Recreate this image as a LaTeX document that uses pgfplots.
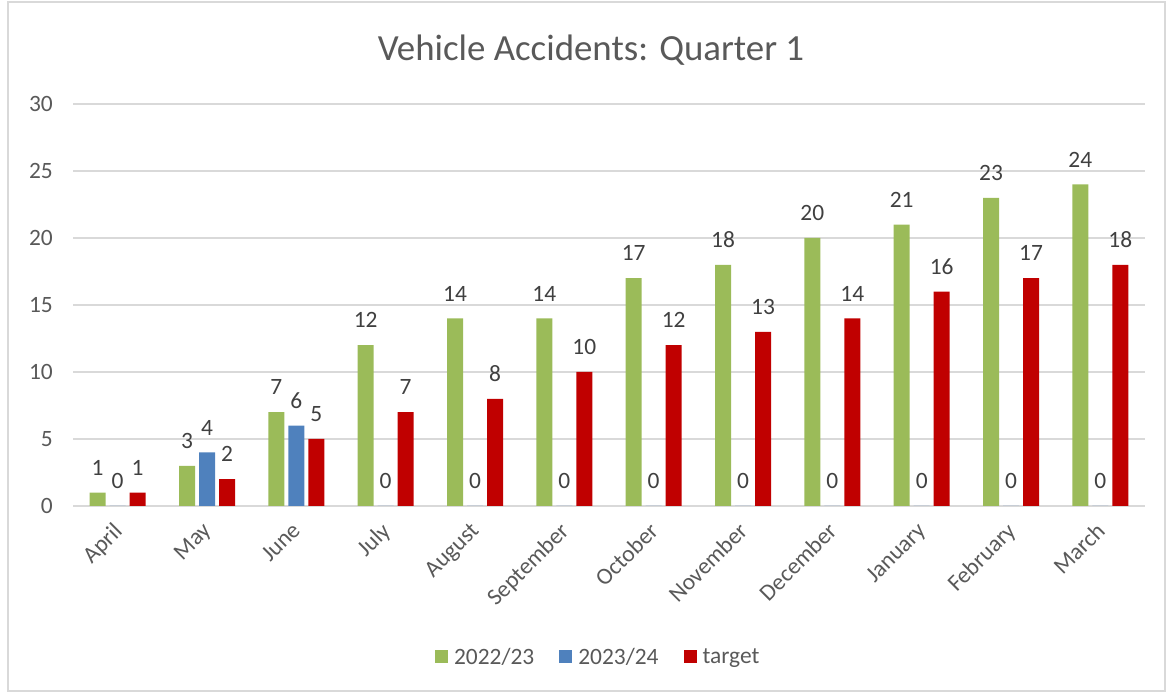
\documentclass[border=0pt]{standalone}
\usepackage{pgfplots}
\pgfplotsset{compat=1.18}
\usepackage{fontspec}
\setmainfont{Carlito}
\definecolor{cgreen}{HTML}{9BBB59}
\definecolor{cblue}{HTML}{4F81BD}
\definecolor{cred}{HTML}{C00000}
\definecolor{ctext}{HTML}{595959}
\definecolor{clabel}{HTML}{404040}
\definecolor{cgrid}{HTML}{D9D9D9}
\begin{document}
\begin{tikzpicture}[x=1bp,y=1bp]
\useasboundingbox (0,0) rectangle (1173,693);
\draw[cgrid, line width=1.3bp] (8,2) rectangle (1165,691);
\node[font=\fontsize{37}{44}\selectfont, text=ctext] at (591,643) {Vehicle Accidents: Quarter 1};
\begin{axis}[at={(73bp,187bp)}, anchor=south west, scale only axis,
  width=1072bp, height=402bp,
  /pgf/number format/assume math mode=true,
  ybar=4bp, bar width=16bp,
  xmin=-0.5, xmax=11.5, ymin=0, ymax=30,
  ytick={0,5,...,30},
  xtick={0,...,11},
  xticklabels={April,May,June,July,August,September,October,November,December,January,February,March},
  axis line style={draw=none}, tick style={draw=none},
  ymajorgrids, grid style={cgrid, line width=1.3bp},
  tick label style={font=\fontsize{23.5}{28}\selectfont, text=ctext, inner sep=0pt},
  yticklabel style={anchor=east, xshift=-20bp},
  xticklabel style={rotate=45, anchor=north east, xshift=-11.5bp, yshift=-3.5bp},
  nodes near coords,
  nodes near coords style={font=\fontsize{23.5}{28}\selectfont, text=clabel, anchor=south, inner sep=0pt, yshift=17bp},
  legend columns=3,
  legend style={at={(0.489,-0.3756)}, anchor=center, draw=none, fill=none,
    font=\fontsize{23.5}{28}\selectfont, text=ctext,
    nodes={inner sep=0pt},
    /tikz/every odd column/.append style={column sep=6bp},
    /tikz/every even column/.append style={column sep=25bp}},
  legend image code/.code={\fill[#1] (0bp,-6.5bp) rectangle (13bp,6.5bp);},
]
\addplot[fill=cgreen, draw=none] coordinates {(0,1) (1,3) (2,7) (3,12) (4,14) (5,14) (6,17) (7,18) (8,20) (9,21) (10,23) (11,24)};
\addplot[fill=cblue, draw=none] coordinates {(0,0) (1,4) (2,6) (3,0) (4,0) (5,0) (6,0) (7,0) (8,0) (9,0) (10,0) (11,0)};
\addplot[fill=cred, draw=none] coordinates {(0,1) (1,2) (2,5) (3,7) (4,8) (5,10) (6,12) (7,13) (8,14) (9,16) (10,17) (11,18)};
\legend{2022/23,2023/24,target}
\end{axis}
\end{tikzpicture}
\end{document}
